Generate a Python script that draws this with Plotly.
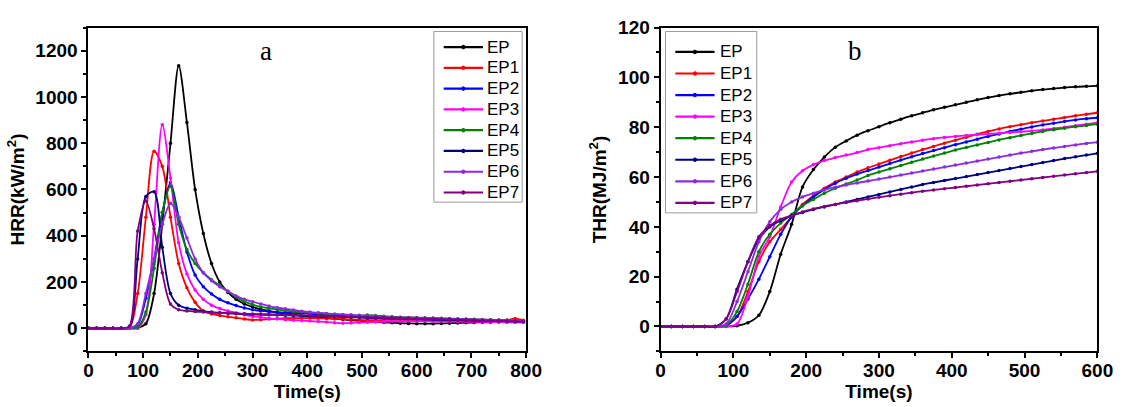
import plotly.graph_objects as go

# Cone calorimeter results: heat release rate (a) and total heat release (b)
series_names = ["EP", "EP1", "EP2", "EP3", "EP4", "EP5", "EP6", "EP7"]
series_colors = ["#000000", "#ff0000", "#0000ff", "#ff00ff", "#008000",
                 "#000080", "#8a2be2", "#800080"]

# HRR sampled every 15 s from 0 to 795 s
hrr_time = list(range(0, 800, 15))
hrr_ep = [0, 0, 0, 0, 0, 0, 2, 20, 150, 450, 800, 1135, 890, 600, 410, 280, 200, 155,
          125, 105, 92, 82, 75, 68, 63, 58, 54, 50, 47, 44, 41, 38, 35, 32, 30, 28, 26,
          24, 22, 21, 20, 20, 20, 21, 22, 23, 24, 25, 26, 26, 27, 27, 27, 27]
hrr_ep1 = [0, 0, 0, 0, 0, 2, 150, 480, 765, 700, 480, 280, 175, 112, 75, 62, 55, 50,
           45, 40, 36, 37, 40, 42, 43, 44, 44, 44, 43, 42, 41, 40, 38, 36, 35, 35, 36,
           36, 36, 35, 35, 35, 34, 34, 33, 33, 33, 33, 34, 34, 35, 36, 42, 35]
hrr_ep2 = [0, 0, 0, 0, 0, 0, 15, 130, 300, 500, 630, 480, 330, 230, 180, 148, 125, 110,
           98, 88, 80, 75, 72, 70, 68, 66, 64, 62, 60, 57, 55, 52, 50, 48, 46, 45, 44,
           42, 41, 40, 39, 38, 37, 36, 35, 34, 33, 33, 32, 31, 31, 30, 30, 29]
hrr_ep3 = [0, 0, 0, 0, 0, 0, 0, 60, 450, 880, 650, 370, 235, 165, 125, 100, 85, 75,
           66, 58, 52, 47, 43, 40, 37, 35, 33, 31, 29, 27, 24, 22, 23, 25, 26, 28, 29,
           30, 30, 31, 31, 31, 30, 30, 30, 29, 29, 28, 28, 27, 27, 26, 26, 25]
hrr_ep4 = [0, 0, 0, 0, 0, 0, 5, 70, 260, 500, 615, 450, 340, 280, 240, 210, 185, 160,
           135, 115, 102, 92, 86, 81, 77, 73, 70, 67, 65, 62, 60, 58, 57, 55, 57, 55, 52,
           50, 48, 47, 46, 45, 44, 43, 42, 41, 40, 39, 38, 37, 36, 35, 34, 33]
hrr_ep5 = [0, 0, 0, 0, 0, 5, 300, 570, 590, 350, 150, 100, 87, 80, 74, 70, 67, 65,
           63, 62, 60, 59, 58, 57, 56, 55, 54, 53, 52, 51, 50, 49, 48, 47, 46, 45, 44,
           43, 42, 41, 40, 39, 38, 37, 36, 35, 34, 33, 33, 32, 31, 30, 30, 29]
hrr_ep6 = [0, 0, 0, 0, 0, 0, 20, 150, 300, 450, 540, 480, 390, 300, 240, 205, 180, 160,
           140, 125, 115, 105, 96, 89, 84, 79, 74, 70, 67, 64, 62, 60, 58, 56, 54, 52, 50,
           48, 47, 46, 45, 44, 43, 42, 41, 40, 39, 38, 37, 36, 35, 34, 33, 32]
hrr_ep7 = [0, 0, 0, 0, 0, 10, 420, 550, 430, 240, 105, 80, 75, 72, 70, 68, 66, 65,
           64, 63, 62, 61, 60, 59, 58, 57, 56, 55, 54, 53, 52, 51, 50, 49, 48, 47, 46,
           45, 44, 43, 42, 41, 40, 39, 38, 37, 36, 35, 34, 33, 32, 31, 30, 29]

# THR sampled every 15 s from 0 to 600 s
thr_time = list(range(0, 601, 15))
thr_ep = [0, 0, 0, 0, 0, 0, 0, 0.3, 1.5, 4.5, 14, 29, 41, 56, 63, 68, 72, 74.5, 76.8,
          78.6, 80.2, 81.8, 83.2, 84.6, 85.8, 87, 88, 89, 90, 91, 91.9, 92.7, 93.4, 94,
          94.6, 95.1, 95.5, 95.9, 96.2, 96.4, 96.6]
thr_ep1 = [0, 0, 0, 0, 0, 0, 0.5, 4, 14, 26, 34, 39, 44, 49, 52.5, 55.5, 58, 60, 62,
           63.7, 65.2, 66.7, 68.2, 69.6, 71, 72.3, 73.6, 74.8, 76, 77.2, 78.3, 79.3,
           80.2, 81, 81.8, 82.5, 83.2, 83.9, 84.6, 85.2, 85.8]
thr_ep2 = [0, 0, 0, 0, 0, 0, 0.3, 4, 11, 19, 28, 37, 44, 48.5, 52, 55, 57.5, 59.5, 61.2,
           62.6, 64, 65.4, 66.8, 68.1, 69.4, 70.6, 71.8, 73, 74.1, 75.2, 76.3, 77.3,
           78.3, 79.2, 80.1, 80.9, 81.6, 82.3, 82.9, 83.4, 83.8]
thr_ep3 = [0, 0, 0, 0, 0, 0, 0, 1, 12, 28, 36, 48, 58, 62.5, 65, 66.6, 67.8, 68.8, 69.8,
           71, 71.8, 72.6, 73.4, 74.1, 74.8, 75.4, 75.9, 76.3, 76.7, 77, 77.3, 77.6,
           77.9, 78.2, 78.5, 78.9, 79.4, 80, 80.6, 81.2, 81.8]
thr_ep4 = [0, 0, 0, 0, 0, 0, 0.5, 6, 17, 30, 37, 41.5, 45, 48.5, 51, 53.5, 55.5, 57.2,
           58.8, 60.6, 62, 63.3, 64.6, 65.9, 67.2, 68.4, 69.6, 70.8, 71.9, 72.9, 73.9,
           74.9, 75.8, 76.7, 77.5, 78.3, 79, 79.6, 80.2, 80.7, 81.2]
thr_ep5 = [0, 0, 0, 0, 0, 0, 3, 15, 26, 35, 40, 42.5, 44.5, 45.8, 47, 48, 49, 50, 51,
           52, 53, 54, 55, 56, 57, 57.8, 58.6, 59.4, 60.2, 61, 61.8, 62.6, 63.4, 64.2,
           65, 65.8, 66.6, 67.4, 68.1, 68.8, 69.5]
thr_ep6 = [0, 0, 0, 0, 0, 0, 1, 10, 22, 34, 42, 47, 50, 52, 53.5, 54.8, 55.9, 56.8,
           57.6, 58.4, 59.2, 60, 60.8, 61.6, 62.4, 63.2, 64, 64.8, 65.6, 66.4, 67.2, 68,
           68.8, 69.6, 70.3, 71, 71.7, 72.3, 72.9, 73.5, 74]
thr_ep7 = [0, 0, 0, 0, 0, 0, 3, 14, 26, 36, 40.5, 43, 44.5, 46, 47.2, 48.2, 49, 49.8,
           50.5, 51.2, 51.9, 52.5, 53.1, 53.7, 54.3, 54.8, 55.3, 55.8, 56.3, 56.8, 57.3,
           57.8, 58.3, 58.8, 59.3, 59.8, 60.3, 60.8, 61.3, 61.8, 62.3]

hrr_series = [hrr_ep, hrr_ep1, hrr_ep2, hrr_ep3, hrr_ep4, hrr_ep5, hrr_ep6, hrr_ep7]
thr_series = [thr_ep, thr_ep1, thr_ep2, thr_ep3, thr_ep4, thr_ep5, thr_ep6, thr_ep7]

hrr_ticks = [0, 100, 200, 300, 400, 500, 600, 700, 800]
hrr_yticks = [0, 200, 400, 600, 800, 1000, 1200]
thr_ticks = [0, 100, 200, 300, 400, 500, 600]
thr_yticks = [0, 20, 40, 60, 80, 100, 120]

W, H = 1131, 407
FONT = "Liberation Sans, Arial, sans-serif"
LINE_W = 1.8

fig = go.Figure()

for name, color, ys in zip(series_names, series_colors, hrr_series):
    fig.add_trace(go.Scatter(
        x=hrr_time, y=ys, name=name, mode="lines+markers", showlegend=False,
        line=dict(color=color, width=LINE_W, shape="spline", smoothing=0.85),
        marker=dict(color=color, size=3.5),
        xaxis="x", yaxis="y"))

for name, color, ys in zip(series_names, series_colors, thr_series):
    fig.add_trace(go.Scatter(
        x=thr_time, y=ys, name=name, mode="lines+markers", showlegend=False,
        line=dict(color=color, width=LINE_W, shape="spline", smoothing=0.85),
        marker=dict(color=color, size=3.5),
        xaxis="x2", yaxis="y2"))


def px_x(p):
    return p / W


def px_y(p):
    return 1 - p / H


def bold(vals):
    return ["<b>%d</b>" % v for v in vals]


tick_font = dict(family=FONT, size=19, color="black")
axis_common = dict(
    showline=True, linecolor="black", linewidth=2, mirror=True,
    ticks="outside", ticklen=5, tickwidth=2, tickcolor="black",
    showgrid=False, zeroline=False, tickmode="array",
    tickfont=tick_font,
    title_font=dict(family=FONT, size=19, color="black"),
)
minor_common = dict(ticks="outside", ticklen=3, tickwidth=1.5, tickcolor="black",
                    showgrid=False, tickmode="linear")

fig.update_layout(
    width=W, height=H,
    margin=dict(l=0, r=0, t=0, b=0),
    paper_bgcolor="white", plot_bgcolor="white",
    showlegend=False,
    xaxis=dict(domain=[px_x(85), px_x(531)], range=[0, 800],
               tickvals=hrr_ticks, ticktext=bold(hrr_ticks), ticklabelstandoff=-4,
               anchor="y", title=dict(text="<b>Time(s)</b>", standoff=0),
               minor=dict(tick0=0, dtick=50, **minor_common), **axis_common),
    yaxis=dict(domain=[px_y(350), px_y(18)], range=[-100, 1300],
               tickvals=hrr_yticks, ticktext=bold(hrr_yticks),
               anchor="x", title=dict(text="<b>HRR(kW/m<sup>2</sup>)</b>", standoff=6),
               minor=dict(tick0=0, dtick=100, **minor_common), **axis_common),
    xaxis2=dict(domain=[px_x(668), px_x(1113)], range=[0, 600],
                tickvals=thr_ticks, ticktext=bold(thr_ticks), ticklabelstandoff=-4,
                anchor="y2", title=dict(text="<b>Time(s)</b>", standoff=0),
                minor=dict(tick0=0, dtick=50, **minor_common), **axis_common),
    yaxis2=dict(domain=[px_y(350), px_y(18)], range=[-10, 120],
                tickvals=thr_yticks, ticktext=bold(thr_yticks),
                anchor="x2", title=dict(text="<b>THR(MJ/m<sup>2</sup>)</b>", standoff=6),
                minor=dict(tick0=0, dtick=10, **minor_common), **axis_common),
)

# Panel letters
for letter, xp in (("a", 266), ("b", 866)):
    fig.add_annotation(text=letter, x=px_x(xp), y=px_y(42), xref="paper", yref="paper",
                       xanchor="center", yanchor="middle", showarrow=False,
                       font=dict(family="Liberation Serif, Times New Roman, serif",
                                 size=27, color="black"))


# Framed legends drawn in paper pixels
def draw_legend(box_left, box_right, box_top, box_bottom, first_row, row_gap,
                line_start, line_end, text_left):
    fig.add_shape(type="rect", xref="paper", yref="paper",
                  x0=px_x(box_left), x1=px_x(box_right),
                  y0=px_y(box_bottom), y1=px_y(box_top),
                  line=dict(color="#9a9a9a", width=1), fillcolor="white", layer="above")
    for i, (name, color) in enumerate(zip(series_names, series_colors)):
        row = first_row + i * row_gap
        fig.add_shape(type="line", xref="paper", yref="paper",
                      x0=px_x(line_start), x1=px_x(line_end),
                      y0=px_y(row), y1=px_y(row),
                      line=dict(color=color, width=2.2), layer="above")
        mid = (line_start + line_end) / 2
        fig.add_shape(type="circle", xref="paper", yref="paper",
                      x0=px_x(mid - 1.8), x1=px_x(mid + 1.8),
                      y0=px_y(row + 1.8), y1=px_y(row - 1.8),
                      line=dict(color=color, width=1), fillcolor=color, layer="above")
        fig.add_annotation(text=name, x=px_x(text_left), y=px_y(row),
                           xref="paper", yref="paper", xanchor="left", yanchor="middle",
                           showarrow=False,
                           font=dict(family=FONT, size=17, color="black"))


draw_legend(437, 527, 22, 197, 38, 21.3, 447, 487, 489)
draw_legend(673, 766, 22, 208, 43, 22.1, 683, 723, 726)

fig.write_html("out.html")
